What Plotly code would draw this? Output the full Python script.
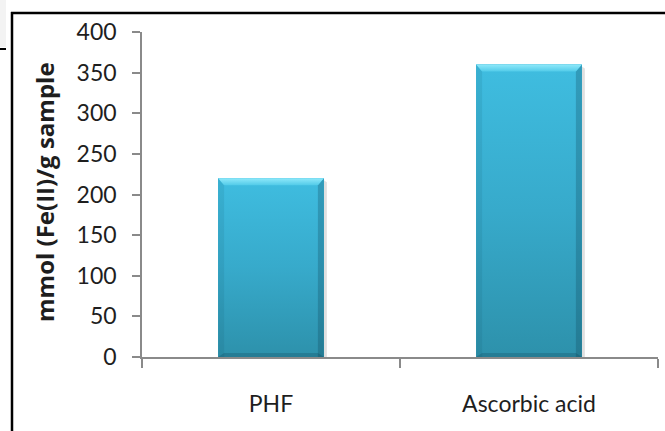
import plotly.graph_objects as go

# ---- data ----
categories = ["PHF", "Ascorbic acid"]
values = [220, 360]
y_tick_values = [0, 50, 100, 150, 200, 250, 300, 350, 400]
y_title = "mmol (Fe(II)/g sample"

# ---- page geometry (px) ----
W, H = 665, 431
L, R, T, B = 142, 7, 32, 74
PLOT_W = W - L - R
PLOT_H = H - T - B
Y_MAX = 400
BAR_W = 0.41

x_per_px = 2.0 / PLOT_W
y_per_px = Y_MAX / PLOT_H


def paper_x(px):
    return (px - L) / PLOT_W


def paper_y(py):
    return (H - B - py) / PLOT_H


FONT = "Lato"
TITLE_FONT = "Open Sans"
AXIS_GREY = "#8a8a8a"
TEXT = "#1e1e1e"

fig = go.Figure()

# base bars
fig.add_trace(go.Bar(
    x=categories, y=values, width=BAR_W,
    marker=dict(color="#37ADCF", line=dict(width=0)),
    showlegend=False,
))


def poly(xs, ys, **kw):
    fig.add_trace(go.Scatter(
        x=xs + [xs[0]], y=ys + [ys[0]], xaxis="x2", yaxis="y",
        mode="lines", line=dict(width=0), fill="toself",
        hoverinfo="skip", showlegend=False, **kw))


# bevelled, gradient-shaded faces drawn over each bar
for i, v in enumerate(values):
    x0, x1 = i - BAR_W / 2, i + BAR_W / 2
    bx, by = 6 * x_per_px, 7 * y_per_px
    sx = 3 * x_per_px
    # soft drop shadow on the right
    poly([x1, x1 + sx, x1 + sx, x1], [v - 2 * y_per_px, v - 4 * y_per_px, 0, 0],
         fillcolor="rgba(0,0,0,0.12)")
    # body with vertical gradient
    poly([x0, x1, x1, x0], [0, 0, v, v],
         fillgradient=dict(type="vertical",
                           colorscale=[[0, "#2D91AB"], [0.5, "#37AACB"], [1, "#3FBDE0"]]))
    # left edge
    poly([x0, x0 + bx, x0 + bx, x0], [v, v - by, 0, 0],
         fillcolor="rgba(10,70,90,0.10)")
    # right edge
    poly([x1, x1 - bx, x1 - bx, x1], [v, v - by, 0, 0],
         fillcolor="rgba(10,60,80,0.26)")
    # bottom edge
    poly([x0, x1, x1 - bx, x0 + bx], [0, 0, 4 * y_per_px, 4 * y_per_px],
         fillcolor="rgba(10,50,70,0.22)")
    # lit top bevel
    poly([x0, x1, x1 - bx, x0 + bx], [v, v, v - by, v - by],
         fillgradient=dict(type="vertical",
                           colorscale=[[0, "#52CBE9"], [1, "#8FE9FA"]]))

fig.update_layout(
    width=W, height=H,
    margin=dict(l=L, r=R, t=T, b=B, pad=0),
    paper_bgcolor="white", plot_bgcolor="white",
    font=dict(family=FONT, size=23, color=TEXT),
    showlegend=False,
    bargap=0.59,
    xaxis=dict(
        type="category", range=[-0.5, 1.5],
        showline=True, linecolor=AXIS_GREY, linewidth=1.5,
        ticks="outside", ticklen=9, tickwidth=1.5, tickcolor=AXIS_GREY,
        tickson="boundaries", showgrid=False, zeroline=False,
        ticklabelstandoff=26,
        tickfont=dict(family=FONT, size=23, color=TEXT),
    ),
    xaxis2=dict(overlaying="x", range=[-0.5, 1.5], visible=False, fixedrange=True),
    yaxis=dict(
        range=[0, Y_MAX], tickvals=y_tick_values,
        showline=True, linecolor=AXIS_GREY, linewidth=1.5,
        ticks="outside", ticklen=8, tickwidth=1.5, tickcolor=AXIS_GREY,
        showgrid=False, zeroline=False,
        ticklabelstandoff=11,
        tickfont=dict(family=FONT, size=23, color=TEXT),
    ),
)

# rotated axis title
fig.add_annotation(
    text=y_title, textangle=-90, showarrow=False,
    xref="paper", yref="paper", x=paper_x(44), y=paper_y(192),
    xanchor="center", yanchor="middle",
    font=dict(family=TITLE_FONT, size=24, color=TEXT, weight="bold"),
)

# frame lines and the corner tab
shapes = [
    dict(type="rect", xref="paper", yref="paper",
         x0=paper_x(0), x1=paper_x(6), y0=paper_y(0), y1=paper_y(47),
         fillcolor="#f3f3f3", line=dict(width=0), layer="below"),
    dict(type="line", xref="paper", yref="paper",
         x0=paper_x(0), x1=paper_x(6), y0=paper_y(49), y1=paper_y(49),
         line=dict(color="black", width=2)),
    dict(type="line", xref="paper", yref="paper",
         x0=paper_x(11), x1=paper_x(666), y0=paper_y(13), y1=paper_y(13),
         line=dict(color="black", width=2.5)),
    dict(type="line", xref="paper", yref="paper",
         x0=paper_x(12), x1=paper_x(12), y0=paper_y(12), y1=paper_y(432),
         line=dict(color="black", width=2.5)),
]
fig.update_layout(shapes=shapes)

fig.write_html("out.html")
